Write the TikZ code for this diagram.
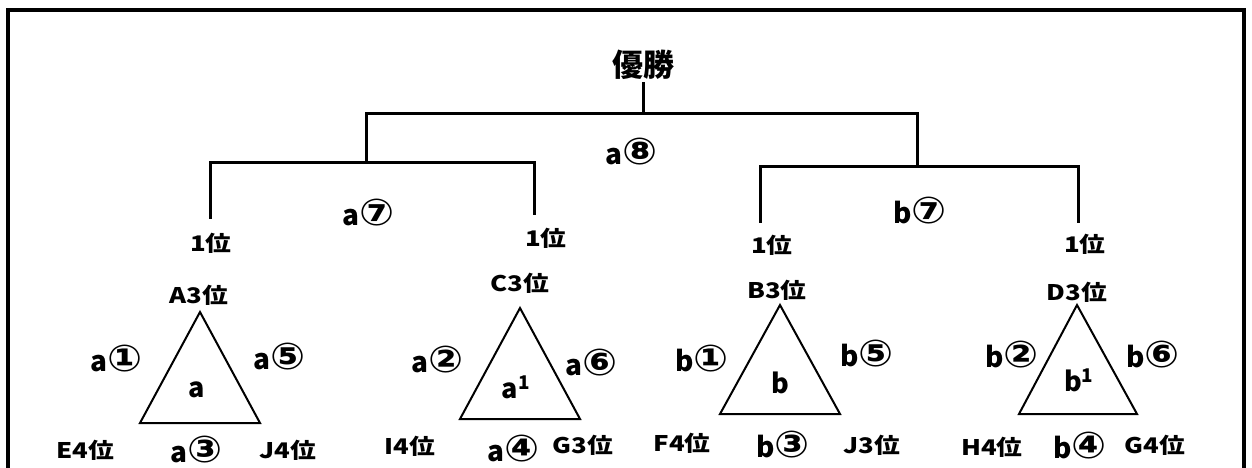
\documentclass[tikz,border=0pt]{standalone}
\usepackage{fontspec}
\setmainfont{Noto Sans CJK JP}
\newfontfamily\jpwide{Noto Sans CJK JP}[FakeStretch=1.2]
\newfontfamily\ringfont{DejaVu Sans}[FakeStretch=1.12]
\newcommand\ring[1]{{\ringfont\fontsize{37}{37}\selectfont #1}}
\usepackage{tikz}

\begin{document}
\begin{tikzpicture}[x=1pt, y=-1pt,
    bracket/.style={line width=3pt, line cap=rect},
    tri/.style={draw, line width=2pt, line join=miter},
    title/.style={font=\fontsize{31}{31}\selectfont\bfseries, inner sep=3pt},
    rank/.style={font=\jpwide\fontsize{21.5}{22}\selectfont\bfseries, inner sep=1pt},
    game/.style={font=\fontsize{28}{28}\selectfont\bfseries, inner sep=0pt},
    grp/.style={font=\fontsize{27}{27}\selectfont\bfseries, inner sep=1pt}]

    \useasboundingbox (0,0) rectangle (1252,468);
    \draw[line width=3.3pt] (8,10) rectangle (1244,480);

    % final
    \node[title] (win) at (643,65) {優勝};
    \coordinate (top) at (643,114);
    \coordinate (semiA) at (366,162);
    \coordinate (semiB) at (917,166);
    \draw[bracket] (win) -- (top);
    \draw[bracket] (semiA) |- (top) -| (semiB);
    \node[game] (fa) at (632,152) {a\ring{⑧}};

    % semi finals
    \coordinate (legA) at (210,217);
    \coordinate (legC) at (534,213);
    \coordinate (legB) at (760,221);
    \coordinate (legD) at (1078,221);
    \draw[bracket] (legA) |- (semiA) -| (legC);
    \draw[bracket] (legB) |- (semiB) -| (legD);
    \node[game] (sa) at (369,213) {a\ring{⑦}};
    \node[game] (sb) at (920,211) {b\ring{⑦}};

    \node[rank] (firstA) at (211,243) {1位};
    \node[rank] (firstC) at (546,238) {1位};
    \node[rank] (firstB) at (772,245) {1位};
    \node[rank] (firstD) at (1085,244) {1位};

    % group a
    \draw[tri] (200,312) -- (140,423) -- (260,423) -- cycle;
    \node[grp] (ga) at (197,390) {a};
    \node[rank] (A3) at (199,295) {A3位};
    \node[game] (a1) at (117,359) {a\ring{①}};
    \node[game] (a5) at (280,357) {a\ring{⑤}};
    \node[rank] (E4) at (85,450) {E4位};
    \node[game] (a3) at (197,450) {a\ring{③}};
    \node[rank] (J4) at (288,450) {J4位};

    % group a1
    \draw[tri] (520,308) -- (460,419) -- (580,419) -- cycle;
    \node[grp] (ga1) at (516,387) {a\textsuperscript{1}};
    \node[rank] (C3) at (520,283) {C3位};
    \node[game] (a2) at (438,360) {a\ring{②}};
    \node[game] (a6) at (592,363) {a\ring{⑥}};
    \node[rank] (I4) at (410,446) {I4位};
    \node[game] (a4) at (514,449) {a\ring{④}};
    \node[rank] (G3) at (583,445) {G3位};

    % group b
    \draw[tri] (780,305) -- (720,414) -- (840,414) -- cycle;
    \node[grp] (gb) at (780,383) {b};
    \node[rank] (B3) at (777,290) {B3位};
    \node[game] (b1) at (702,359) {b\ring{①}};
    \node[game] (b5) at (867,354) {b\ring{⑤}};
    \node[rank] (F4) at (682,443) {F4位};
    \node[game] (b3) at (783,445) {b\ring{③}};
    \node[rank] (J3) at (872,445) {J3位};

    % group b1
    \draw[tri] (1077,305) -- (1019,414) -- (1137,414) -- cycle;
    \node[grp] (gb1) at (1079,380) {b\textsuperscript{1}};
    \node[rank] (D3) at (1077,292) {D3位};
    \node[game] (b2) at (1012,355) {b\ring{②}};
    \node[game] (b6) at (1153,355) {b\ring{⑥}};
    \node[rank] (H4) at (992,447) {H4位};
    \node[game] (b4) at (1080,446) {b\ring{④}};
    \node[rank] (G4) at (1155,445) {G4位};
\end{tikzpicture}
\end{document}
